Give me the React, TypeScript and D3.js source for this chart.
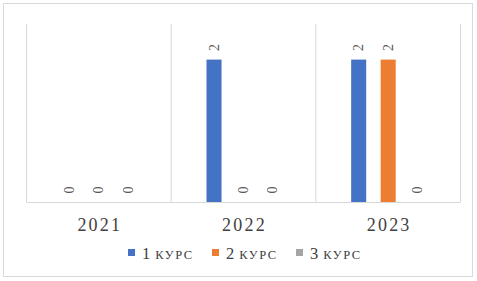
import React from "react";
import * as d3 from "d3";

const categories = ["2021", "2022", "2023"];
const seriesNames = ["1", "2", "3"];
const seriesUnit = "КУРС";
const series1 = [0, 2, 2];
const series2 = [0, 0, 2];
const series3 = [0, 0, 0];
const colors = ["#4472C4", "#ED7D31", "#A5A5A5"];

const W = 477;
const H = 281;

export default function App() {
  const values = [series1, series2, series3];
  const x = d3.scaleBand<string>().domain(categories).range([26.5, 460.5]).padding(0);
  const inner = d3
    .scaleBand<number>()
    .domain([0, 1, 2])
    .range([-37, 37])
    .paddingInner(0.49)
    .paddingOuter(0);
  const y = d3.scaleLinear().domain([0, 2.5]).range([202, 24]);
  const grid = "#d9d9d9";
  const font = "'Liberation Serif', 'Times New Roman', serif";
  const legendStep = 84;
  const legendStart = 128;

  return (
    <svg width={W} height={H} style={{ position: "absolute", left: 0, top: 0 }}>
      <rect x={0} y={0} width={W} height={H} fill="#fff" />
      <rect x={3.5} y={3.5} width={469} height={273} fill="#fff" stroke={grid} strokeWidth={1} />
      {[...categories.map((c) => x(c)!), x.range()[1]].map((gx, i) => (
        <line key={i} x1={gx} x2={gx} y1={y(2.5)} y2={y(0)} stroke={grid} strokeWidth={1} />
      ))}
      {categories.map((c, ci) => {
        const cx = x(c)! + x.bandwidth() / 2;
        return (
          <g key={c}>
            {values.map((vals, si) => {
              const bx = cx + inner(si)!;
              const bw = inner.bandwidth();
              const v = vals[ci];
              const top = y(v);
              const lx = bx + bw / 2;
              const ly = top - 8.5;
              return (
                <g key={si}>
                  {v > 0 && <rect x={bx} y={top} width={bw} height={y(0) - top} fill={colors[si]} />}
                  <text
                    transform={`translate(${lx},${ly}) rotate(-90)`}
                    textAnchor="start"
                    dominantBaseline="central"
                    fontFamily={font}
                    fontSize={14}
                    fill="#595959"
                  >
                    {v}
                  </text>
                </g>
              );
            })}
            <text
              x={cx + 1}
              y={231}
              textAnchor="middle"
              fontFamily={font}
              fontSize={18}
              letterSpacing={2.2}
              fill="#404040"
            >
              {c}
            </text>
          </g>
        );
      })}
      <line x1={x.range()[0]} x2={x.range()[1]} y1={y(0) + 0.5} y2={y(0) + 0.5} stroke={grid} strokeWidth={1} />
      {seriesNames.map((n, i) => {
        const lx = legendStart + i * legendStep;
        return (
          <g key={n}>
            <rect x={lx} y={249} width={7} height={7} fill={colors[i]} />
            <text x={lx + 14} y={258.5} fontFamily={font} fontSize={16.5} fill="#404040">
              {n}
              <tspan dx={5} fontSize={12.5} letterSpacing={1.5}>
                {seriesUnit}
              </tspan>
            </text>
          </g>
        );
      })}
    </svg>
  );
}
